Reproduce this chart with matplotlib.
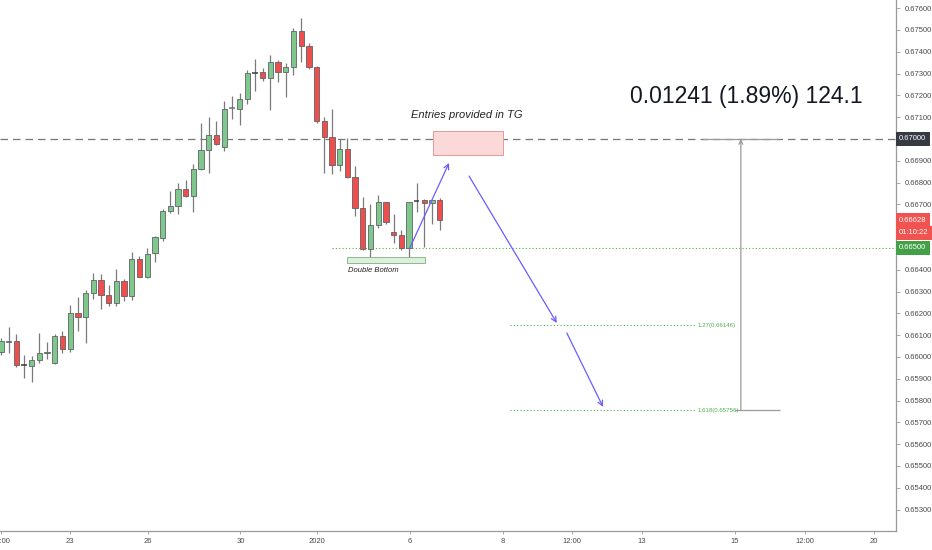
import matplotlib
matplotlib.use("Agg")
import matplotlib.pyplot as plt
import matplotlib.transforms as mtransforms
from matplotlib.patches import Rectangle

# ---------------- data (4H candles, AUD/USD style) ----------------
opens = [0.66023, 0.66071, 0.66073, 0.65963, 0.65957, 0.65985, 0.66018, 0.65971, 0.66098, 0.66038,
         0.66200, 0.66182, 0.66295, 0.66355, 0.66284, 0.66249, 0.66347, 0.66281, 0.66450, 0.66367,
         0.66476, 0.66547, 0.66671, 0.66693, 0.66772, 0.66739, 0.66861, 0.66948, 0.67017, 0.66962,
         0.67139, 0.67139, 0.67182, 0.67305, 0.67306, 0.67278, 0.67352, 0.67306, 0.67332, 0.67495,
         0.67428, 0.67332, 0.67083, 0.67011, 0.66879, 0.66956, 0.66827, 0.66682, 0.66494, 0.66606,
         0.66711, 0.66573, 0.66560, 0.66498, 0.66716, 0.66719, 0.66708, 0.66719]
highs = [0.66087, 0.66138, 0.66104, 0.66009, 0.66005, 0.66109, 0.66067, 0.66106, 0.66119, 0.66239,
         0.66277, 0.66307, 0.66384, 0.66379, 0.66329, 0.66404, 0.66359, 0.66482, 0.66465, 0.66501,
         0.66555, 0.66680, 0.66761, 0.66798, 0.66813, 0.66885, 0.67072, 0.67102, 0.67083, 0.67176,
         0.67197, 0.67210, 0.67317, 0.67366, 0.67324, 0.67384, 0.67362, 0.67350, 0.67508, 0.67554,
         0.67439, 0.67335, 0.67102, 0.67136, 0.66998, 0.67003, 0.66878, 0.66734, 0.66700, 0.66743,
         0.66713, 0.66654, 0.66583, 0.66713, 0.66798, 0.66727, 0.66720, 0.66728]
lows = [0.66009, 0.66017, 0.65956, 0.65902, 0.65884, 0.65971, 0.65989, 0.65967, 0.66017, 0.66024,
        0.66119, 0.66066, 0.66265, 0.66219, 0.66235, 0.66234, 0.66257, 0.66261, 0.66365, 0.66362,
        0.66437, 0.66533, 0.66662, 0.66655, 0.66736, 0.66667, 0.66858, 0.66843, 0.66972, 0.66946,
        0.67090, 0.67064, 0.67159, 0.67222, 0.67266, 0.67133, 0.67260, 0.67194, 0.67292, 0.67352,
        0.67322, 0.67072, 0.66843, 0.66839, 0.66853, 0.66823, 0.66647, 0.66491, 0.66437, 0.66594,
        0.66612, 0.66522, 0.66489, 0.66443, 0.66667, 0.66506, 0.66610, 0.66583]
closes = [0.66073, 0.66074, 0.65963, 0.65963, 0.65985, 0.66018, 0.66021, 0.66098, 0.66038, 0.66200,
          0.66182, 0.66295, 0.66355, 0.66284, 0.66249, 0.66347, 0.66281, 0.66450, 0.66367, 0.66472,
          0.66549, 0.66671, 0.66693, 0.66772, 0.66739, 0.66861, 0.66948, 0.67018, 0.66977, 0.67138,
          0.67141, 0.67182, 0.67303, 0.67305, 0.67278, 0.67352, 0.67307, 0.67332, 0.67495, 0.67428,
          0.67329, 0.67083, 0.67011, 0.66879, 0.66956, 0.66827, 0.66682, 0.66494, 0.66606, 0.66711,
          0.66619, 0.66560, 0.66498, 0.66711, 0.66716, 0.66708, 0.66719, 0.66628]

price_ticks = [0.653, 0.654, 0.655, 0.656, 0.657, 0.658, 0.659, 0.660, 0.661, 0.662, 0.663,
               0.664, 0.667, 0.668, 0.669, 0.671, 0.672, 0.673, 0.674, 0.675, 0.676]
time_tick_pos = [0.0, 9.0, 19.05, 31.1, 41.1, 53.15, 65.15, 74.15, 83.2, 95.3, 104.4, 113.4]
time_tick_labels = ["12:00", "23", "26", "30", "2020", "6", "8", "12:00", "13", "15", "12:00", "20"]

resistance = 0.67000
support = 0.66500
last_price = 0.66628
countdown = "01:10:22"
fib_levels = [0.66146, 0.65756]
fib_labels = ["1.27(0.66146)", "1.618(0.65756)"]
measure_text = "0.01241 (1.89%) 124.1"

# ---------------- figure ----------------
W, H = 932, 550
fig = plt.figure(figsize=(W / 100, H / 100), dpi=100)
fig.patch.set_facecolor("white")
ax = fig.add_axes([0, 19 / H, 896 / W, 531 / H])
ax.set_facecolor("white")
ax.set_xlim(-0.117, 116.25)
ax.set_ylim(0.652018, 0.676376)

GREEN = "#7fc78b"
RED = "#f04d4d"
EDGE = "#5f6368"
WICK = "#7a7a7a"
BW = 0.68

for i, (o, h, l, c) in enumerate(zip(opens, highs, lows, closes)):
    ax.vlines(i, l, h, color=WICK, lw=0.9, zorder=2)
    if abs(c - o) < 0.000025:
        col = "#3a3a3a" if c == o else "#6f6f6f"
        ax.hlines((o + c) / 2, i - BW / 2, i + BW / 2, color=col, lw=1.1, zorder=3)
    else:
        fc = GREEN if c > o else RED
        ax.bar(i, abs(c - o), bottom=min(o, c), width=BW, color=fc,
               edgecolor=EDGE, linewidth=0.6, zorder=3)

# horizontal levels
ax.axhline(resistance, color="#777777", lw=0.9, ls=(0, (6, 4)), zorder=1)
ax.hlines(support, 43.0, 116.25, color="#4caf50", lw=0.8, ls=(0, (1, 2)), zorder=1)

# double bottom box
ax.add_patch(Rectangle((44.9, 0.66431), 55.1 - 44.9, 0.66459 - 0.66431,
                       facecolor="#dcefdc", edgecolor="#7fb07f", lw=0.6, zorder=4))
ax.text(45.1, 0.66399, "Double Bottom", fontsize=5.5, style="italic",
        family="Liberation Sans", color="#222222", va="center", ha="left")

# entries zone
ax.add_patch(Rectangle((56.1, 0.66927), 65.2 - 56.1, 0.67037 - 0.66927,
                       facecolor="#fbd9d9", edgecolor="#e39a9a", lw=0.7, zorder=4))
ax.text(60.5, 0.67110, "Entries provided in TG", fontsize=8, style="italic",
        family="Liberation Sans", color="#222222", va="center", ha="center")

# blue arrows
ARROW = "#6a5cff"
for (x0, y0, x1, y1) in [(53.1, 0.66500, 58.2, 0.66890),
                         (60.8, 0.66830, 72.2, 0.66156),
                         (73.5, 0.66110, 78.2, 0.65771)]:
    ax.annotate("", xy=(x1, y1), xytext=(x0, y0),
                arrowprops=dict(arrowstyle="->", color=ARROW, lw=0.9,
                                mutation_scale=9, shrinkA=0, shrinkB=0), zorder=5)

# fib lines
for lvl, lab in zip(fib_levels, fib_labels):
    ax.hlines(lvl, 66.1, 90.3, color="#4caf50", lw=0.8, ls=(0, (1, 2)), zorder=1)
    ax.text(90.5, lvl, lab, fontsize=4.4, color="#4caf50", family="Liberation Sans",
            va="center", ha="left")

# measurement tool
ax.hlines(resistance, 91.2, 100.9, color="#9a9a9a", lw=0.9, zorder=2)
ax.hlines(fib_levels[1], 95.3, 101.2, color="#9a9a9a", lw=0.9, zorder=2)
ax.annotate("", xy=(96.1, resistance), xytext=(96.1, fib_levels[1]),
            arrowprops=dict(arrowstyle="->", color="#9a9a9a", lw=0.9,
                            mutation_scale=7, shrinkA=0, shrinkB=0), zorder=2)
ax.text(81.7, 0.67197, measure_text, fontsize=16.5, family="Liberation Sans",
        color="#131722", va="center", ha="left")

# axes styling
for s in ["top", "left"]:
    ax.spines[s].set_visible(False)
ax.spines["right"].set_color("#9a9a9a")
ax.spines["bottom"].set_color("#9a9a9a")
ax.spines["right"].set_linewidth(0.9)
ax.spines["bottom"].set_linewidth(0.9)

ax.yaxis.tick_right()
ax.set_yticks(price_ticks)
ax.set_yticklabels([f"{p:.5f}" for p in price_ticks])
ax.tick_params(axis="y", length=3, width=0.6, color="#9a9a9a", pad=3,
               labelsize=5.5, labelcolor="#4a4a4a")
ax.set_xticks(time_tick_pos)
ax.set_xticklabels(time_tick_labels)
ax.tick_params(axis="x", length=2, width=0.6, color="#9a9a9a", pad=3,
               labelsize=5.5, labelcolor="#4a4a4a")
for t in ax.get_xticklabels() + ax.get_yticklabels():
    t.set_family("Liberation Sans")

# price labels on the axis
trans = mtransforms.blended_transform_factory(ax.transAxes, ax.transData)
def price_box(y, text, fc):
    ax.text(1.0035, y, text, transform=trans, fontsize=5.5, family="Liberation Sans",
            color="white", va="center", ha="left", clip_on=False, zorder=20,
            bbox=dict(boxstyle="square,pad=0.45", fc=fc, ec="none"))

price_box(resistance, "0.67000", "#363a45")
price_box(last_price, "0.66628", "#f05350")
price_box(last_price - 0.00058, countdown, "#f05350")
price_box(support, "0.66500", "#43a047")

fig.savefig("out.png", dpi=100, facecolor="white")
